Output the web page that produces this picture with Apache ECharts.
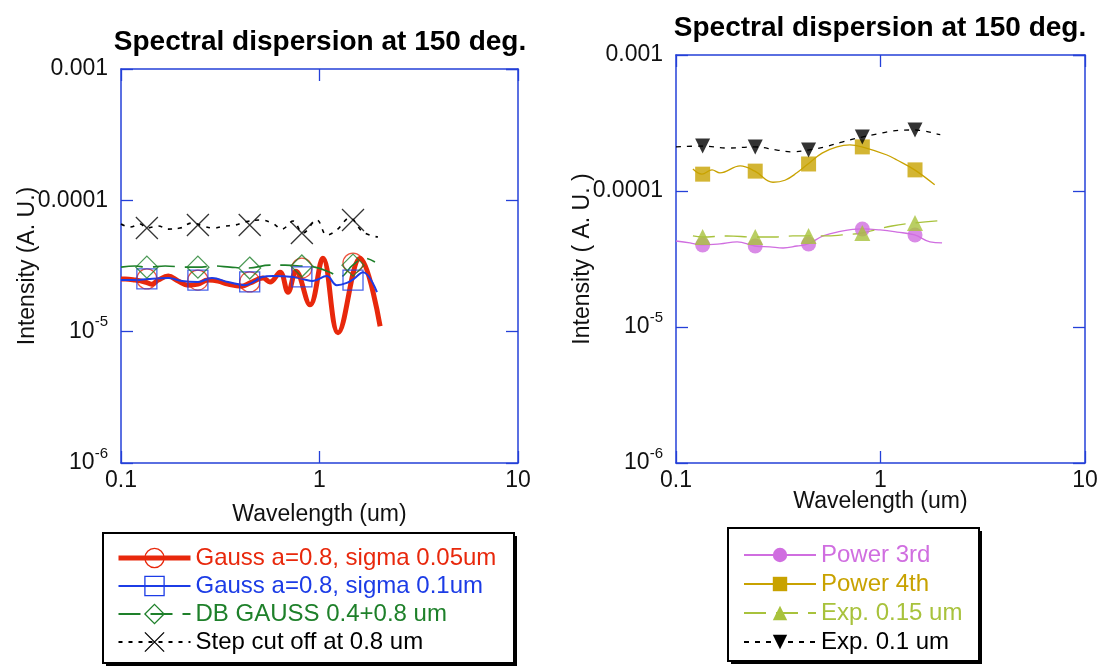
<!DOCTYPE html>
<html>
<head>
<meta charset="utf-8">
<script src="https://cdn.jsdelivr.net/npm/echarts@6/dist/echarts.min.js"></script>
<style>
  html, body { margin: 0; padding: 0; background: #fff; }
  #chart { width: 1101px; height: 667px; }
</style>
</head>
<body>
<div id="chart"></div>
<script>
// marker positions (um), same for every curve
const markerX = [0.135, 0.244, 0.445, 0.815, 1.475];

// left plot: [wavelength, intensity]
const gauss005 = [[0.1,2.52e-5],[0.105,2.52e-5],[0.118,2.47e-5],[0.132,2.39e-5],[0.143,2.30e-5],[0.154,2.47e-5],[0.173,2.65e-5],[0.194,2.43e-5],[0.218,2.26e-5],[0.244,2.30e-5],[0.274,2.47e-5],[0.308,2.43e-5],[0.346,2.30e-5],[0.407,2.22e-5],[0.447,2.35e-5],[0.519,2.56e-5],[0.563,2.39e-5],[0.633,2.84e-5],[0.694,2.0e-5],[0.761,2.89e-5],[0.896,1.6e-5],[1.04,3.63e-5],[1.24,9.8e-6],[1.6,3.63e-5],[2.02,1.1e-5]];
const gauss01 = [[0.1,2.47e-5],[0.118,2.47e-5],[0.137,2.52e-5],[0.173,2.56e-5],[0.203,2.43e-5],[0.244,2.39e-5],[0.287,2.56e-5],[0.346,2.39e-5],[0.421,2.26e-5],[0.473,2.43e-5],[0.513,2.61e-5],[0.583,2.65e-5],[0.736,2.61e-5],[0.824,2.52e-5],[0.925,2.43e-5],[1.088,2.65e-5],[1.222,2.26e-5],[1.373,2.35e-5],[1.488,2.52e-5],[1.656,2.84e-5],[1.947,2.0e-5]];
const dbGauss = [[0.1,3.10e-5],[0.118,3.16e-5],[0.135,3.10e-5],[0.167,3.16e-5],[0.21,3.10e-5],[0.244,3.10e-5],[0.298,3.16e-5],[0.354,3.10e-5],[0.437,3.05e-5],[0.563,3.21e-5],[0.67,3.21e-5],[0.814,3.16e-5],[0.947,3.10e-5],[1.126,2.84e-5],[1.265,2.61e-5],[1.47,3.21e-5],[1.694,3.63e-5],[1.903,3.39e-5]];
const stepCut = [[0.1,6.60e-5],[0.111,6.26e-5],[0.125,6.60e-5],[0.135,6.15e-5],[0.154,6.37e-5],[0.173,6.04e-5],[0.198,6.15e-5],[0.228,6.72e-5],[0.259,6.37e-5],[0.291,6.15e-5],[0.334,6.37e-5],[0.375,6.48e-5],[0.421,6.84e-5],[0.501,7.08e-5],[0.577,6.72e-5],[0.647,6.04e-5],[0.736,6.96e-5],[0.824,5.64e-5],[0.969,7.08e-5],[1.088,5.44e-5],[1.222,5.94e-5],[1.421,7.33e-5],[1.656,5.74e-5],[1.97,5.25e-5]];
const gauss005Mk = [2.52e-5, 2.47e-5, 2.39e-5, 3.05e-5, 3.33e-5];
const gauss01Mk = [2.52e-5, 2.47e-5, 2.39e-5, 2.61e-5, 2.47e-5];
const dbGaussMk = [3.10e-5, 3.10e-5, 3.05e-5, 3.16e-5, 3.21e-5];
const stepCutMk = [6.15e-5, 6.48e-5, 6.48e-5, 5.64e-5, 7.08e-5];

// right plot
const power3 = [[0.1,4.29e-5],[0.117,4.15e-5],[0.134,4.01e-5],[0.164,4.08e-5],[0.199,4.22e-5],[0.243,3.94e-5],[0.288,3.88e-5],[0.334,3.81e-5],[0.39,3.94e-5],[0.442,4.08e-5],[0.524,4.67e-5],[0.613,4.99e-5],[0.811,5.26e-5],[0.995,5.17e-5],[1.204,4.99e-5],[1.469,4.75e-5],[1.746,4.22e-5],[2.0,4.15e-5]];
const power4 = [[0.121,1.45e-4],[0.134,1.33e-4],[0.15,1.43e-4],[0.164,1.36e-4],[0.206,1.53e-4],[0.243,1.40e-4],[0.298,1.16e-4],[0.341,1.20e-4],[0.39,1.36e-4],[0.442,1.58e-4],[0.518,1.90e-4],[0.613,2.11e-4],[0.709,2.18e-4],[0.811,2.11e-4],[1.076,1.84e-4],[1.204,1.69e-4],[1.469,1.43e-4],[1.841,1.11e-4]];
const exp015 = [[0.121,4.67e-5],[0.134,4.59e-5],[0.178,4.67e-5],[0.243,4.59e-5],[0.312,4.59e-5],[0.373,4.67e-5],[0.442,4.67e-5],[0.535,4.67e-5],[0.648,4.75e-5],[0.811,4.91e-5],[1.138,5.53e-5],[1.469,5.82e-5],[1.896,6.02e-5]];
const exp01 = [[0.1,2.11e-4],[0.134,2.14e-4],[0.178,2.07e-4],[0.243,2.11e-4],[0.312,2.0e-4],[0.373,1.94e-4],[0.442,2.0e-4],[0.535,2.11e-4],[0.648,2.29e-4],[0.811,2.49e-4],[0.961,2.62e-4],[1.138,2.76e-4],[1.469,2.81e-4],[1.646,2.76e-4],[1.896,2.62e-4],[1.96,2.6e-4]];
const power3Mk = [4.01e-5, 3.94e-5, 4.08e-5, 5.26e-5, 4.75e-5];
const power4Mk = [1.33e-4, 1.40e-4, 1.58e-4, 2.11e-4, 1.43e-4];
const exp015Mk = [4.59e-5, 4.59e-5, 4.67e-5, 4.91e-5, 5.82e-5];
const exp01Mk = [2.14e-4, 2.11e-4, 2.0e-4, 2.49e-4, 2.81e-4];

const xTicks = ['0.1', '1', '10'];
const yTicks = ['0.001', '0.0001', '{b|10}{s|-5}', '{b|10}{s|-6}'];

const FONT = 'Liberation Sans, Arial, sans-serif';
const AXIS = '#2440d8';
const CROSS = 'path://M0,0L10,10M10,0L0,10';
const DOWN = 'path://M0,0L10,0L5,9Z';
const NONE = 'rgba(0,0,0,0)';

function xLabel(v) {
  const e = Math.round(Math.log10(v));
  return xTicks[e + 1];
}
function yLabel(v) {
  const e = Math.round(Math.log10(v));
  return yTicks[-3 - e];
}

function axesFor(g, xNameGap) {
  const common = {
    gridIndex: g, type: 'log', logBase: 10,
    axisLine: { show: true, lineStyle: { color: AXIS, width: 1.5 } },
    axisTick: { show: true, inside: true, length: 12, lineStyle: { color: AXIS, width: 1.3 } },
    splitLine: { show: false }, minorTick: { show: false }
  };
  const labelStyle = { color: '#111', fontSize: 23, fontFamily: FONT };
  const nameStyle = { color: '#111', fontSize: 23, fontFamily: FONT };
  return {
    x: [
      Object.assign({}, common, {
        position: 'bottom', min: 0.1, max: 10,
        axisLabel: Object.assign({ formatter: xLabel, margin: 6 }, labelStyle),
        name: 'Wavelength (um)', nameLocation: 'middle', nameGap: xNameGap,
        nameMoveOverlap: false, nameTextStyle: nameStyle
      }),
      Object.assign({}, common, { position: 'top', min: 0.1, max: 10, axisLabel: { show: false } })
    ],
    y: [
      Object.assign({}, common, {
        position: 'left', min: 1e-6, max: 1e-3,
        axisLabel: Object.assign({
          formatter: yLabel, margin: 13,
          rich: {
            b: { fontSize: 23, fontFamily: FONT, color: '#111', lineHeight: 34 },
            s: { fontSize: 15, fontFamily: FONT, color: '#111', lineHeight: 14, verticalAlign: 'top' }
          }
        }, labelStyle),
        name: g === 0 ? 'Intensity (A. U.)' : 'Intensity ( A. U. )',
        nameLocation: 'middle', nameGap: 82, nameMoveOverlap: false, nameTextStyle: nameStyle
      }),
      Object.assign({}, common, { position: 'right', min: 1e-6, max: 1e-3, axisLabel: { show: false } })
    ]
  };
}

const a0 = axesFor(0, 40);
const a1 = axesFor(1, 27);

function curve(name, data, axis, color, width, dash, symbol) {
  return {
    name: name, type: 'line', data: data, xAxisIndex: axis, yAxisIndex: axis,
    smooth: 0.4, showSymbol: false, symbol: symbol,
    lineStyle: { color: color, width: width, type: dash },
    itemStyle: { color: color },
    emphasis: { disabled: true }, z: 2
  };
}
function marks(name, ys, axis, color, symbol, size, filled) {
  return {
    name: name, type: 'scatter', xAxisIndex: axis, yAxisIndex: axis,
    data: markerX.map((x, i) => [x, ys[i]]),
    symbol: symbol, symbolSize: size,
    itemStyle: filled ? { color: color } : { color: NONE, borderColor: color, borderWidth: 1.3 },
    emphasis: { disabled: true }, z: 3
  };
}

const RED = '#e8280c', BLUE = '#1c3ce6', GREEN = '#1e802a', BLACK = '#000';
const VIOLET = '#d06ee0', GOLD = '#c8a200', LIME = '#a8c23c';

const names = ['Gauss a=0.8, sigma 0.05um', 'Gauss a=0.8, sigma 0.1um', 'DB GAUSS 0.4+0.8 um', 'Step cut off at 0.8 um',
               'Power 3rd', 'Power 4th', 'Exp. 0.15 um', 'Exp. 0.1 um'];

function hollow(c) { return { color: NONE, borderColor: c, borderWidth: 1.3 }; }

const legendBase = {
  orient: 'vertical', itemWidth: 72, itemGap: 4, padding: 0,
  selectedMode: false,
  textStyle: { fontSize: 24, fontFamily: FONT }
};

// legend frames: white box with black border and an offset black shadow
function frame(x, y, w, h) {
  return [
    { type: 'rect', shape: { x: x + 3, y: y + 3, width: w, height: h }, style: { fill: '#000' }, z: 0 },
    { type: 'rect', shape: { x: x, y: y, width: w, height: h }, style: { fill: '#fff', stroke: '#000', lineWidth: 2 }, z: 1 }
  ];
}

const option = {
  animation: false,
  backgroundColor: '#fff',
  graphic: frame(103, 533, 411, 130).concat(frame(728, 528, 251, 133)),
  title: [
    { text: 'Spectral dispersion at 150 deg.', left: 320, top: 28, textAlign: 'center', padding: 0,
      textStyle: { fontSize: 28, fontWeight: 'bold', fontFamily: FONT, color: '#000' } },
    { text: 'Spectral dispersion at 150 deg.', left: 880, top: 14, textAlign: 'center', padding: 0,
      textStyle: { fontSize: 28, fontWeight: 'bold', fontFamily: FONT, color: '#000' } }
  ],
  grid: [
    { left: 121, top: 69, width: 397, height: 394 },
    { left: 676, top: 55, width: 409, height: 408 }
  ],
  xAxis: a0.x.concat(a1.x),
  yAxis: a0.y.concat(a1.y),
  legend: [
    Object.assign({}, legendBase, {
      left: 116, top: 546, itemHeight: 24, z: 5,
      data: [
        { name: names[0], textStyle: { color: RED }, lineStyle: { width: 5 }, itemStyle: hollow(RED) },
        { name: names[1], textStyle: { color: BLUE }, itemStyle: hollow(BLUE) },
        { name: names[2], textStyle: { color: GREEN }, itemStyle: hollow(GREEN) },
        { name: names[3], textStyle: { color: BLACK }, itemStyle: hollow(BLACK) }
      ]
    }),
    Object.assign({}, legendBase, {
      left: 743, top: 543, itemHeight: 18, itemGap: 5, z: 5,
      data: [
        { name: names[4], textStyle: { color: VIOLET } },
        { name: names[5], textStyle: { color: GOLD } },
        { name: names[6], textStyle: { color: LIME } },
        { name: names[7], textStyle: { color: BLACK } }
      ]
    })
  ],
  series: [
    curve(names[0], gauss005, 0, RED, 5, 'solid', 'circle'),
    curve(names[1], gauss01, 0, BLUE, 2, 'solid', 'rect'),
    curve(names[2], dbGauss, 0, GREEN, 1.6, [22, 10], 'diamond'),
    curve(names[3], stepCut, 0, BLACK, 1.6, [4, 6], CROSS),
    marks(names[0], gauss005Mk, 0, RED, 'circle', 20, false),
    marks(names[1], gauss01Mk, 0, BLUE, 'rect', 20, false),
    marks(names[2], dbGaussMk, 0, GREEN, 'diamond', 22, false),
    marks(names[3], stepCutMk, 0, BLACK, CROSS, 22, false),
    curve(names[4], power3, 2, VIOLET, 1.3, 'solid', 'circle'),
    curve(names[5], power4, 2, GOLD, 1.3, 'solid', 'rect'),
    curve(names[6], exp015, 2, LIME, 1.3, [22, 10], 'triangle'),
    curve(names[7], exp01, 2, BLACK, 1.3, [5, 6], DOWN),
    marks(names[4], power3Mk, 2, VIOLET, 'circle', 15, true),
    marks(names[5], power4Mk, 2, GOLD, 'rect', 15, true),
    marks(names[6], exp015Mk, 2, LIME, 'triangle', 16, true),
    marks(names[7], exp01Mk, 2, BLACK, DOWN, 15, true)
  ]
};

const chart = echarts.init(document.getElementById('chart'), null, { renderer: 'canvas' });
chart.setOption(option);
</script>
</body>
</html>
